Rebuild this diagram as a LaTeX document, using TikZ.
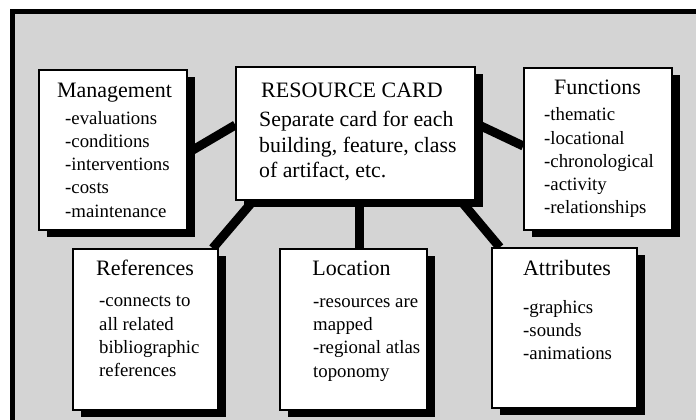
\documentclass[tikz,border=0pt]{standalone}
\usepackage{fontspec}
\setmainfont{Liberation Serif}
\usetikzlibrary{shadows}
\definecolor{panelgray}{RGB}{212,212,212}
\pgfdeclarelayer{panel}
\pgfdeclarelayer{links}
\pgfsetlayers{panel,links,main}
\tikzstyle{card}=[draw=black, line width=1.4pt, fill=white, inner sep=0pt, drop shadow={shadow xshift=7.5pt, shadow yshift=-7pt, fill=black, opacity=1}]
\tikzstyle{heading}=[inner sep=0pt, anchor=base, font=\fontsize{22}{26}\selectfont]
\tikzstyle{items}=[inner sep=0pt, anchor=base west, align=left, font=\fontsize{18.8}{23.3}\selectfont]
\tikzstyle{body}=[inner sep=0pt, anchor=base west, align=left, font=\fontsize{21.8}{25.5}\selectfont]
\tikzstyle{link}=[draw=black, line width=9pt]

\begin{document}
\begin{tikzpicture}[x=1pt, y=-1pt]
		   \useasboundingbox (0,0) rectangle (696,420);
		   \begin{pgfonlayer}{panel}
			   \clip (0,0) rectangle (696,420);
			   \draw[line width=5pt, fill=panelgray] (12,12) rectangle (712,432);
		   \end{pgfonlayer}
		   \begin{scope}
			   \node (mgmt) at (113,150) [card, minimum width=148pt, minimum height=160pt] {};
			   \node (card) at (355.5,133.5) [card, minimum width=239pt, minimum height=133pt] {};
			   \node (func) at (598,149) [card, minimum width=148pt, minimum height=162pt] {};
			   \node (refs) at (145.5,329.5) [card, minimum width=145pt, minimum height=161pt] {};
			   \node (loc) at (353.5,329.5) [card, minimum width=147pt, minimum height=161pt] {};
			   \node (attr) at (564.5,328) [card, minimum width=145pt, minimum height=160pt] {};

			   % multi-line texts sit on the baseline of their last line
			   \node (mgmtT) at (114.5,97.5) [heading] {Management};
			   \node (mgmtL) at (65,217.2) [items] {-evaluations\\-conditions\\-interventions\\-costs\\-maintenance};

			   \node (cardT) at (352,97) [heading] {RESOURCE CARD};
			   \node (cardL) at (259,177.5) [body] {Separate card for each\\building, feature, class\\of artifact, etc.};

			   \node (funcT) at (597.5,95) [heading] {Functions};
			   \node (funcL) at (544,213.9) [items] {-thematic\\-locational\\-chronological\\-activity\\-relationships};

			   \node (refsT) at (145,275) [heading] {References};
			   \node (refsL) at (99,376.6) [items] {-connects to\\all related\\bibliographic\\references};

			   \node (locT) at (351.5,275) [heading] {Location};
			   \node (locL) at (313,377) [items] {-resources are\\mapped\\-regional atlas\\toponomy};

			   \node (attrT) at (567,275) [heading] {Attributes};
			   \node (attrL) at (523,359.6) [items] {-graphics\\-sounds\\-animations};
		   \end{scope}
		   \begin{pgfonlayer}{links}
			   \path [link] ([yshift=-3pt]mgmt.east) edge ([yshift=8.5pt]card.west);
			   \path [link] ([yshift=10pt]card.east) edge ([yshift=3pt]func.west);
			   \path [link] ([xshift=18pt]card.south west) edge ([xshift=-6pt]refs.north east);
			   \path [link] ([xshift=3.5pt]card.south) edge ([xshift=5.5pt]loc.north);
			   \path [link] ([xshift=-15pt]card.south east) edge ([xshift=8.5pt]attr.north west);
		   \end{pgfonlayer}
	   \end{tikzpicture}
\end{document}
